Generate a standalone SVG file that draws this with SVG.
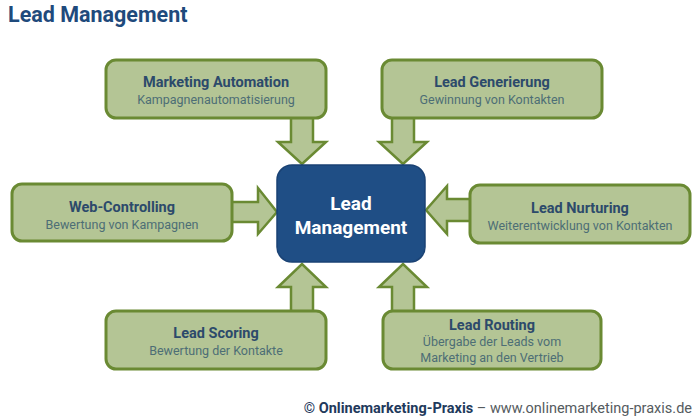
<svg xmlns="http://www.w3.org/2000/svg" width="700" height="420" viewBox="0 0 700 420">
<style>
.box{fill:#b4c595;stroke:#6a8a33;stroke-width:3}
.arr{fill:#b4c595;stroke:#6a8a33;stroke-width:2.5;stroke-linejoin:miter}
.t{font-family:Roboto,"DejaVu Sans",sans-serif;font-weight:bold;font-size:14.5px;fill:#2c4a6b;text-anchor:middle}
.s{font-family:Roboto,"DejaVu Sans",sans-serif;font-size:12.5px;fill:#4d6e75;text-anchor:middle}
.c{font-family:Roboto,"DejaVu Sans",sans-serif;font-weight:bold;font-size:19px;fill:#ffffff;text-anchor:middle}
</style>
<rect width="700" height="420" fill="#ffffff"/>
<text x="8" y="22" font-family="Roboto,'DejaVu Sans',sans-serif" font-weight="bold" font-size="21.5" fill="#1f4a7c">Lead Management</text>
<g id="connectors">
<polygon class="arr" points="291,112 313,112 313,142 326,142 302,164 278,142 291,142"/>
<polygon class="arr" points="392,112 414,112 414,142 427,142 403,164 379,142 392,142"/>
<polygon class="arr" points="226,202 258,202 258,188 277,212 258,234 258,222 226,222"/>
<polygon class="arr" points="476,199 447,199 447,186 426,210 447,234 447,221 476,221"/>
<polygon class="arr" points="291,316 313,316 313,287 326,287 302,264 278,287 291,287"/>
<polygon class="arr" points="392,316 414,316 414,287 427,287 403,264 379,287 392,287"/>
</g>
<g id="center">
<rect x="277" y="165" width="148" height="97" rx="15" fill="#1f4e85" stroke="#1a4274" stroke-width="1.5"/>
<text class="c" x="351" y="210">Lead</text>
<text class="c" x="351" y="234">Management</text>
</g>
<g id="marketing-automation">
<rect class="box" x="106" y="60" width="220" height="58" rx="10"/>
<text class="t" x="216" y="87">Marketing Automation</text>
<text class="s" x="216" y="104">Kampagnenautomatisierung</text>
</g>
<g id="lead-generierung">
<rect class="box" x="382" y="60" width="220" height="58" rx="10"/>
<text class="t" x="492" y="87">Lead Generierung</text>
<text class="s" x="492" y="104">Gewinnung von Kontakten</text>
</g>
<g id="web-controlling">
<rect class="box" x="12" y="184" width="220" height="57" rx="10"/>
<text class="t" x="122" y="212">Web-Controlling</text>
<text class="s" x="122" y="229">Bewertung von Kampagnen</text>
</g>
<g id="lead-nurturing">
<rect class="box" x="470" y="185" width="220" height="58" rx="10"/>
<text class="t" x="580" y="213">Lead Nurturing</text>
<text class="s" x="580" y="230">Weiterentwicklung von Kontakten</text>
</g>
<g id="lead-scoring">
<rect class="box" x="106" y="311" width="220" height="58" rx="10"/>
<text class="t" x="216" y="338">Lead Scoring</text>
<text class="s" x="216" y="355">Bewertung der Kontakte</text>
</g>
<g id="lead-routing">
<rect class="box" x="383" y="311" width="218" height="58" rx="10"/>
<text class="t" x="492" y="330">Lead Routing</text>
<text class="s" x="492" y="346">Übergabe der Leads vom</text>
<text class="s" x="492" y="362">Marketing an den Vertrieb</text>
</g>
<text x="692" y="413" text-anchor="end" font-family="Roboto,'DejaVu Sans',sans-serif" font-size="14.5"><tspan font-weight="bold" fill="#1f3a5c">© Onlinemarketing-Praxis</tspan><tspan fill="#555b60"> – www.onlinemarketing-praxis.de</tspan></text>
</svg>
